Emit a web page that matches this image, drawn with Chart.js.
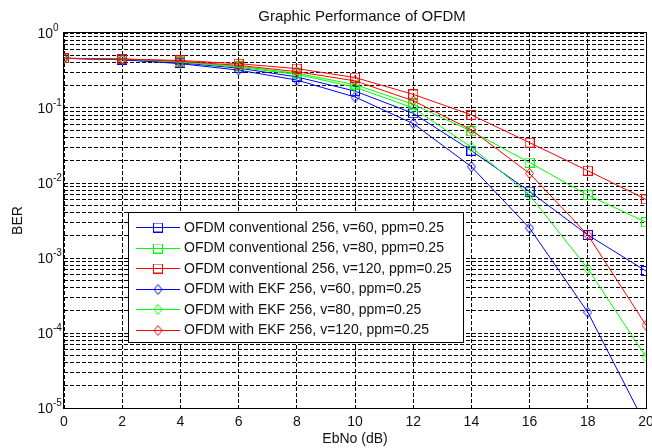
<!DOCTYPE html>
<html>
<head>
<meta charset="utf-8">
<script src="https://cdn.jsdelivr.net/npm/chart.js@4.4.1/dist/chart.umd.min.js"></script>
<style>
  body{margin:0;background:#fff}
  canvas{display:block}
</style>
</head>
<body>
<canvas id="berChart" width="652" height="448"></canvas>
<script>
// EbNo (dB) on the x axis
const ebno = [0, 2, 4, 6, 8, 10, 12, 14, 16, 18, 20];

// BER values
const conv60  = [0.46, 0.44, 0.40, 0.34, 0.26, 0.168, 0.085, 0.027, 0.0077, 0.00203, 0.00067];
const conv80  = [0.46, 0.45, 0.41, 0.36, 0.29, 0.205, 0.112, 0.049, 0.0187, 0.0069, 0.0030];
const conv120 = [0.46, 0.45, 0.43, 0.39, 0.335, 0.255, 0.152, 0.081, 0.0345, 0.0146, 0.00605];
const ekf60   = [0.46, 0.44, 0.39, 0.32, 0.236, 0.140, 0.062, 0.0165, 0.0025, 0.000189, 0.0000058];
const ekf80   = [0.46, 0.45, 0.41, 0.35, 0.28, 0.190, 0.100, 0.030, 0.0069, 0.00072, 0.000048];
const ekf120  = [0.46, 0.45, 0.42, 0.37, 0.305, 0.230, 0.125, 0.051, 0.0134, 0.00203, 0.000127];

const seriesLabels = [
  'OFDM conventional 256, v=60, ppm=0.25',
  'OFDM conventional 256, v=80, ppm=0.25',
  'OFDM conventional 256, v=120, ppm=0.25',
  'OFDM with EKF 256, v=60, ppm=0.25',
  'OFDM with EKF 256, v=80, ppm=0.25',
  'OFDM with EKF 256, v=120, ppm=0.25'
];

// axis ticks
const xTicks = [0, 2, 4, 6, 8, 10, 12, 14, 16, 18, 20];
const yDecades = [1e-5, 1e-4, 1e-3, 1e-2, 1e-1, 1];
const yExponents = ['-5', '-4', '-3', '-2', '-1', '0'];
const yMinorSteps = [2, 3, 4, 5, 6, 7, 8, 9];

const FONT = "'Liberation Sans', Arial, sans-serif";
const TEXT = '#111';

// hollow markers like matlab
function markerImg(shape, color){
  const c = document.createElement('canvas');
  let g;
  if(shape === 'square'){
    c.width = 10; c.height = 10;
    g = c.getContext('2d');
    g.strokeStyle = color;
    g.lineWidth = 1;
    g.strokeRect(0.5, 0.5, 9, 9);
  } else {
    c.width = 9; c.height = 11;
    g = c.getContext('2d');
    g.strokeStyle = color;
    g.lineWidth = 1;
    g.beginPath();
    g.moveTo(4.5, 0.5); g.lineTo(8.5, 5.5); g.lineTo(4.5, 10.5); g.lineTo(0.5, 5.5);
    g.closePath();
    g.stroke();
  }
  return c;
}

const colors = ['#0000ff', '#00ff00', '#ff0000', '#0000ff', '#00ff00', '#ff0000'];
const shapes = ['square', 'square', 'square', 'diamond', 'diamond', 'diamond'];
const values = [conv60, conv80, conv120, ekf60, ekf80, ekf120];

const datasets = values.map((vals, i) => ({
  label: seriesLabels[i],
  data: vals.map((v, j) => ({x: ebno[j], y: v})),
  borderColor: colors[i],
  backgroundColor: 'transparent',
  borderWidth: 1,
  pointStyle: markerImg(shapes[i], colors[i]),
  pointRadius: 5,
  tension: 0,
  order: values.length - i
}));

// legend box, axes frame and tick labels
const matlabDecor = {
  id: 'matlabDecor',
  afterDatasetsDraw(chart){
    const ctx = chart.ctx;
    const a = chart.chartArea;
    ctx.save();
    // legend
    const lx = 128, ly = 212, lw = 335, lh = 130;
    ctx.fillStyle = '#fff';
    ctx.fillRect(lx, ly, lw, lh);
    ctx.strokeStyle = '#000';
    ctx.lineWidth = 1;
    ctx.strokeRect(lx + 0.5, ly + 0.5, lw, lh);
    ctx.font = '14px ' + FONT;
    ctx.textBaseline = 'middle';
    ctx.textAlign = 'left';
    chart.data.datasets.forEach((ds, i) => {
      const y = ly + 15 + i * 20.5;
      ctx.strokeStyle = ds.borderColor;
      ctx.beginPath();
      ctx.moveTo(136, Math.round(y) + 0.5);
      ctx.lineTo(180, Math.round(y) + 0.5);
      ctx.stroke();
      const img = ds.pointStyle;
      ctx.drawImage(img, 158 - img.width / 2, Math.round(y) + 0.5 - img.height / 2);
      ctx.fillStyle = TEXT;
      ctx.fillText(ds.label, 184, y + 1);
    });
    // frame
    ctx.strokeStyle = '#000';
    ctx.lineWidth = 1;
    ctx.strokeRect(Math.round(a.left) - 0.5, Math.round(a.top) - 0.5,
      Math.round(a.right - a.left) + 1, Math.round(a.bottom - a.top) + 1);
    ctx.restore();
  },
  afterDraw(chart){
    const ctx = chart.ctx;
    const a = chart.chartArea;
    const xs = chart.scales.x, ys = chart.scales.y;
    ctx.save();
    ctx.fillStyle = TEXT;
    // title
    ctx.font = '15px ' + FONT;
    ctx.textAlign = 'center';
    ctx.textBaseline = 'middle';
    ctx.fillText('Graphic Performance of OFDM', (a.left + a.right) / 2 + 7, 17);
    // x tick labels
    ctx.font = '14px ' + FONT;
    xTicks.forEach(t => {
      ctx.fillText(String(t), xs.getPixelForValue(t), a.bottom + 14);
    });
    // y tick labels 10^n
    yDecades.forEach((d, i) => {
      const py = ys.getPixelForValue(d);
      ctx.font = '14px ' + FONT;
      ctx.textAlign = 'right';
      ctx.fillText('10', 53, py + 1);
      ctx.font = '10px ' + FONT;
      ctx.textAlign = 'left';
      ctx.fillText(yExponents[i], 53, py - 5);
    });
    ctx.restore();
  }
};

const yGrid = [];
yDecades.forEach(d => {
  yGrid.push(d);
  if(d < 1) yMinorSteps.forEach(m => yGrid.push(d * m));
});

new Chart(document.getElementById('berChart'), {
  type: 'line',
  data: {datasets},
  options: {
    responsive: false,
    devicePixelRatio: 1,
    animation: false,
    layout: {padding: {left: 0, right: 2, top: 33, bottom: 0}},
    plugins: {
      legend: {display: false},
      tooltip: {enabled: false},
      title: {display: false}
    },
    scales: {
      x: {
        type: 'linear',
        min: 0, max: 20,
        ticks: {display: false, stepSize: 2},
        grid: {color: '#000', lineWidth: 1, drawTicks: false},
        border: {display: false, dash: [4, 2]},
        title: {display: true, text: 'EbNo (dB)', color: TEXT,
          font: {family: FONT, size: 14}, padding: {top: 23.2, bottom: 0}}
      },
      y: {
        type: 'logarithmic',
        min: 1e-5, max: 1,
        afterBuildTicks: s => { s.ticks = yGrid.map(v => ({value: v})); },
        ticks: {display: false},
        grid: {color: '#000', lineWidth: 1, drawTicks: false},
        border: {display: false, dash: [4, 2]},
        title: {display: true, text: 'BER', color: TEXT,
          font: {family: FONT, size: 14}, padding: {top: 9.6, bottom: 37.6}}
      }
    }
  },
  plugins: [matlabDecor]
});
</script>
</body>
</html>
